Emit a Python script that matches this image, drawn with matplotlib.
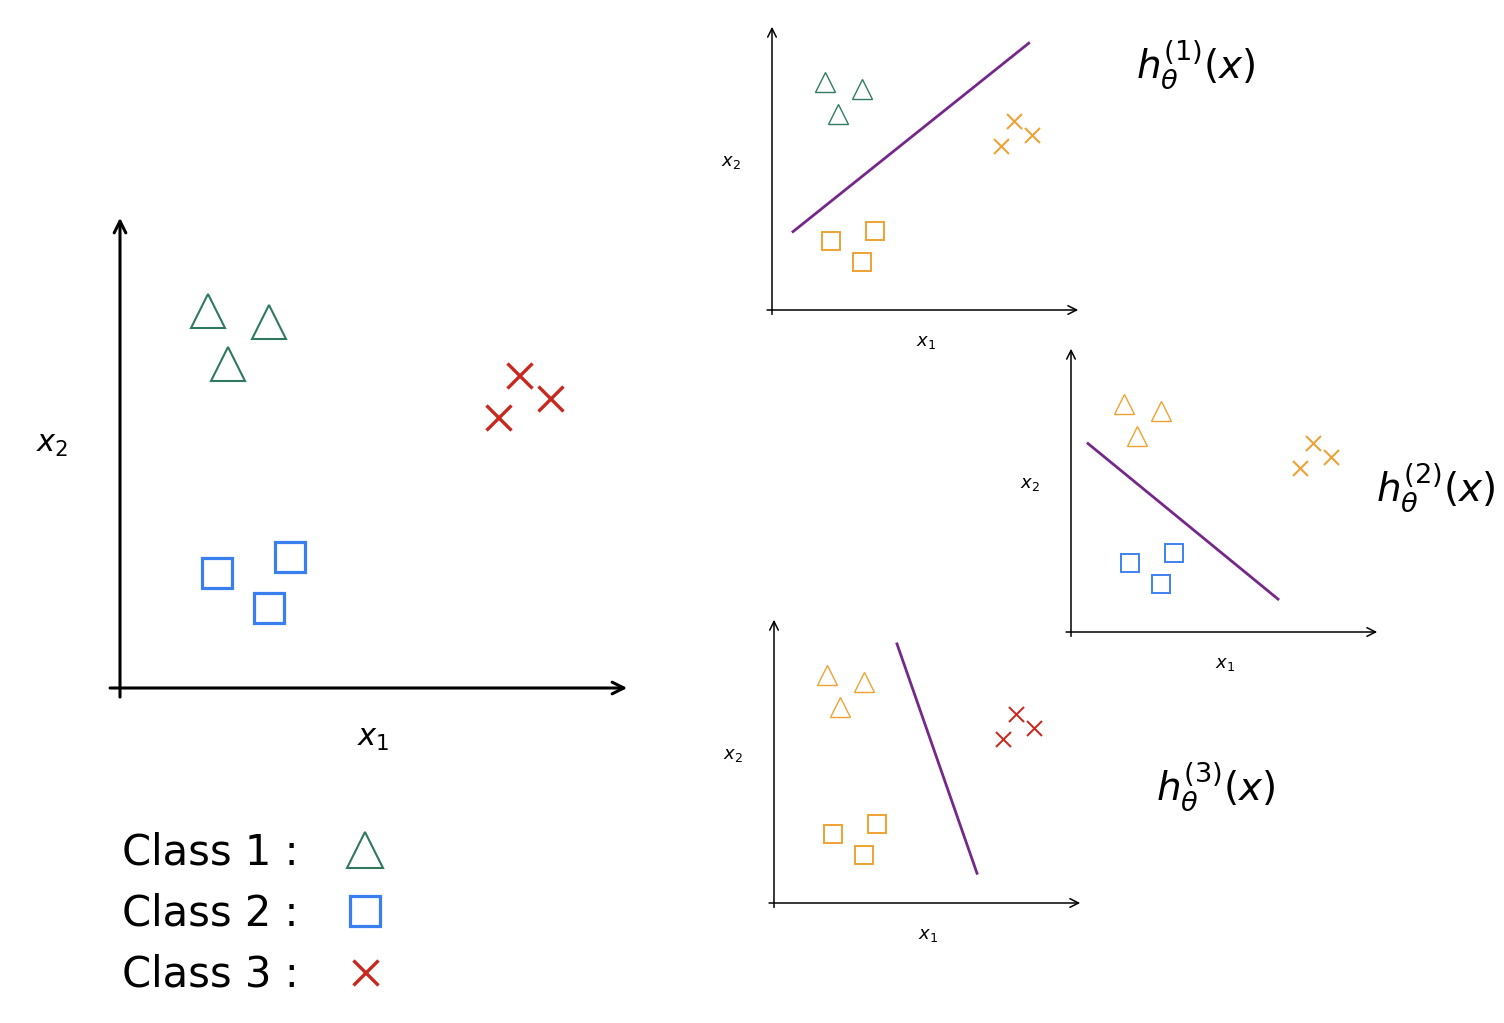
import matplotlib
matplotlib.use("Agg")
from matplotlib import pyplot as plt
from matplotlib.lines import Line2D

W, H = 1504, 1023

# data (same toy set in every panel)
tri_x = [1.73, 2.92, 2.12]
tri_y = [7.97, 7.74, 6.85]
sq_x = [1.90, 3.33, 2.92]
sq_y = [2.43, 2.77, 1.69]
cross_x = [7.82, 8.43, 7.41]
cross_y = [6.62, 6.13, 5.73]

# decision boundaries for the one-vs-all classifiers
bound1_x = [0.68, 8.31]
bound1_y = [2.74, 9.33]
bound2_x = [0.55, 6.70]
bound2_y = [6.59, 1.15]
bound3_x = [3.98, 6.57]
bound3_y = [9.06, 1.04]

class_labels = ["Class 1 :", "Class 2 :", "Class 3 :"]

green = "#2f7a5e"
blue = "#3a7ff0"
red = "#c8281e"
orange = "#f0a030"
purple = "#74288a"

fig = plt.figure(figsize=(W / 100, H / 100), dpi=100)


def make_axes(ox, oy, w, h, lw):
    # ox, oy = pixel position of the origin, w/h = pixel size
    ax = fig.add_axes([ox / W, (H - oy) / H, w / W, h / H])
    ax.set_xlim(0, 10)
    ax.set_ylim(0, 10)
    ax.axis("off")
    arrow = dict(arrowstyle="->", lw=lw, color="black", mutation_scale=10 + 5 * lw)
    ax.annotate("", xy=(1, 0), xytext=(-0.025, 0), xycoords="axes fraction", arrowprops=arrow)
    ax.annotate("", xy=(0, 1), xytext=(0, -0.025), xycoords="axes fraction", arrowprops=arrow)
    return ax


def points(ax, c1, c2, c3, big):
    k = 1.0 if big else 0.6
    ax.plot(tri_x, tri_y, "^", ms=24 * k, mfc="none", mec=c1, mew=1.3 * k + 0.2, clip_on=False)
    ax.plot(sq_x, sq_y, "s", ms=21 * k, mfc="none", mec=c2, mew=2.3 * k, clip_on=False)
    ax.plot(cross_x, cross_y, "x", ms=18 * k, mec=c3, mew=2.4 * k, clip_on=False)


# main plot
ax = make_axes(120, 688, 510, 473, 2.2)
points(ax, green, blue, red, True)
ax.text(0.496, -0.106, "$x_1$", transform=ax.transAxes, fontsize=22, ha="center", va="center")
ax.text(-0.133, 0.514, "$x_2$", transform=ax.transAxes, fontsize=22, ha="center", va="center")

handles = [
    Line2D([], [], ls="none", marker="^", ms=26, mfc="none", mec=green, mew=1.5),
    Line2D([], [], ls="none", marker="s", ms=22, mfc="none", mec=blue, mew=2.3),
    Line2D([], [], ls="none", marker="x", ms=18, mec=red, mew=2.4),
]
fig.legend(handles, class_labels, loc="upper left", bbox_to_anchor=(84 / W, 1 - 794 / H),
           frameon=False, markerfirst=False, fontsize=30, labelspacing=0.46,
           handletextpad=1.0, handlelength=1.2)

panels = [
    (772, 310, bound1_x, bound1_y, (green, orange, orange), "$h_\\theta^{(1)}(x)$", (1.37, 0.86)),
    (1071, 632, bound2_x, bound2_y, (orange, blue, orange), "$h_\\theta^{(2)}(x)$", (1.18, 0.505)),
    (774, 903, bound3_x, bound3_y, (orange, orange, red), "$h_\\theta^{(3)}(x)$", (1.43, 0.41)),
]
for ox, oy, bx, by, cols, name, pos in panels:
    a = make_axes(ox, oy, 309, 286, 1.1)
    points(a, cols[0], cols[1], cols[2], False)
    a.plot(bx, by, color=purple, lw=2)
    a.text(0.497, -0.112, "$x_1$", transform=a.transAxes, fontsize=13, ha="center", va="center")
    a.text(-0.133, 0.516, "$x_2$", transform=a.transAxes, fontsize=13, ha="center", va="center")
    a.text(pos[0], pos[1], name, transform=a.transAxes, fontsize=28, ha="center", va="center")

fig.savefig("out.png", dpi=100, facecolor="white")
